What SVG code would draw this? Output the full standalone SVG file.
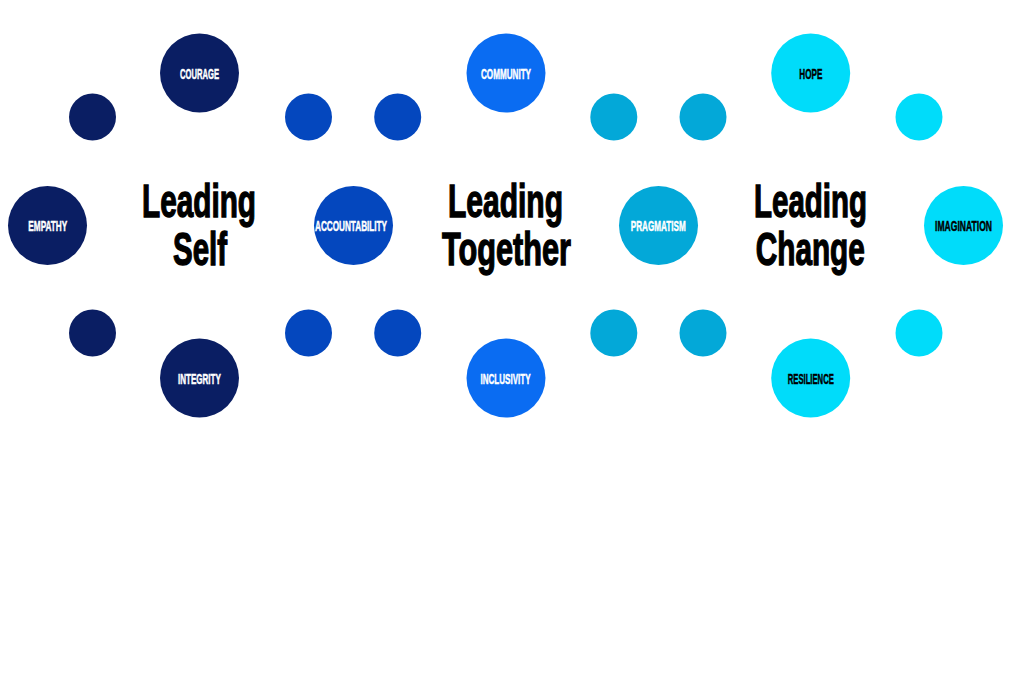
<svg xmlns="http://www.w3.org/2000/svg" width="1014" height="676" viewBox="0 0 1014 676">
<style>
.navy{fill:#0a1e63}
.mid{fill:#0447be}
.bright{fill:#0a6cf2}
.teal{fill:#03a8d8}
.cyan{fill:#00dcfa}
.lbl{font-family:"Liberation Sans",Arial,sans-serif;font-weight:bold;font-size:15px;text-anchor:middle;stroke-width:0.5px}
.w{fill:#ffffff;stroke:#ffffff}
.k{fill:#000000;stroke:#000000}
.title{font-family:"Liberation Sans",Arial,sans-serif;font-weight:bold;font-size:47px;text-anchor:middle;fill:#000000;stroke:#000000;stroke-width:1.4px}
</style>
<rect width="1014" height="676" fill="#ffffff"/>
<g id="connectors"/>
<g id="self-group">
  <g id="courage"><circle class="navy" cx="199.5" cy="73" r="39.5"/><text class="lbl w" x="199.5" y="78.5" textLength="39" lengthAdjust="spacingAndGlyphs">COURAGE</text></g>
  <g id="empathy"><circle class="navy" cx="47.5" cy="225.5" r="39.5"/><text class="lbl w" x="47.8" y="231" textLength="39" lengthAdjust="spacingAndGlyphs">EMPATHY</text></g>
  <g id="integrity"><circle class="navy" cx="199.5" cy="378" r="39.5"/><text class="lbl w" x="199.4" y="383.5" textLength="43" lengthAdjust="spacingAndGlyphs">INTEGRITY</text></g>
  <g id="self-dot-tl"><circle class="navy" cx="92.5" cy="117" r="23.5"/></g>
  <g id="self-dot-bl"><circle class="navy" cx="92.5" cy="333" r="23.5"/></g>
  <g id="self-dot-tr"><circle class="mid" cx="308.5" cy="117" r="23.5"/></g>
  <g id="self-dot-br"><circle class="mid" cx="308.5" cy="333" r="23.5"/></g>
  <g id="leading-self"><text class="title" x="199" y="216.5" textLength="114" lengthAdjust="spacingAndGlyphs">Leading</text><text class="title" x="200" y="265" textLength="54" lengthAdjust="spacingAndGlyphs">Self</text></g>
</g>
<g id="together-group">
  <g id="accountability"><circle class="mid" cx="353.5" cy="225.5" r="39.5"/><text class="lbl w" x="351" y="231" textLength="72" lengthAdjust="spacingAndGlyphs">ACCOUNTABILITY</text></g>
  <g id="community"><circle class="bright" cx="506" cy="73" r="39.5"/><text class="lbl w" x="506" y="78.5" textLength="50" lengthAdjust="spacingAndGlyphs">COMMUNITY</text></g>
  <g id="inclusivity"><circle class="bright" cx="506" cy="378" r="39.5"/><text class="lbl w" x="505.5" y="383.5" textLength="50" lengthAdjust="spacingAndGlyphs">INCLUSIVITY</text></g>
  <g id="together-dot-tl"><circle class="mid" cx="397.7" cy="117" r="23.5"/></g>
  <g id="together-dot-bl"><circle class="mid" cx="397.7" cy="333" r="23.5"/></g>
  <g id="together-dot-tr"><circle class="teal" cx="613.8" cy="117" r="23.5"/></g>
  <g id="together-dot-br"><circle class="teal" cx="613.8" cy="333" r="23.5"/></g>
  <g id="leading-together"><text class="title" x="505.5" y="216.5" textLength="115" lengthAdjust="spacingAndGlyphs">Leading</text><text class="title" x="506.5" y="265" textLength="129" lengthAdjust="spacingAndGlyphs">Together</text></g>
</g>
<g id="change-group">
  <g id="pragmatism"><circle class="teal" cx="658.5" cy="225.5" r="39.5"/><text class="lbl w" x="658.3" y="231" textLength="55" lengthAdjust="spacingAndGlyphs">PRAGMATISM</text></g>
  <g id="hope"><circle class="cyan" cx="810.7" cy="73" r="39.5"/><text class="lbl k" x="810.8" y="78.5" textLength="23" lengthAdjust="spacingAndGlyphs">HOPE</text></g>
  <g id="imagination"><circle class="cyan" cx="963.5" cy="225.5" r="39.5"/><text class="lbl k" x="963.5" y="231" textLength="57" lengthAdjust="spacingAndGlyphs">IMAGINATION</text></g>
  <g id="resilience"><circle class="cyan" cx="810.7" cy="378" r="39.5"/><text class="lbl k" x="810.8" y="383.5" textLength="46" lengthAdjust="spacingAndGlyphs">RESILIENCE</text></g>
  <g id="change-dot-tl"><circle class="teal" cx="703" cy="117" r="23.5"/></g>
  <g id="change-dot-bl"><circle class="teal" cx="703" cy="333" r="23.5"/></g>
  <g id="change-dot-tr"><circle class="cyan" cx="919" cy="117" r="23.5"/></g>
  <g id="change-dot-br"><circle class="cyan" cx="919" cy="333" r="23.5"/></g>
  <g id="leading-change"><text class="title" x="810.5" y="216.5" textLength="113" lengthAdjust="spacingAndGlyphs">Leading</text><text class="title" x="810.3" y="265" textLength="109" lengthAdjust="spacingAndGlyphs">Change</text></g>
</g>
</svg>
